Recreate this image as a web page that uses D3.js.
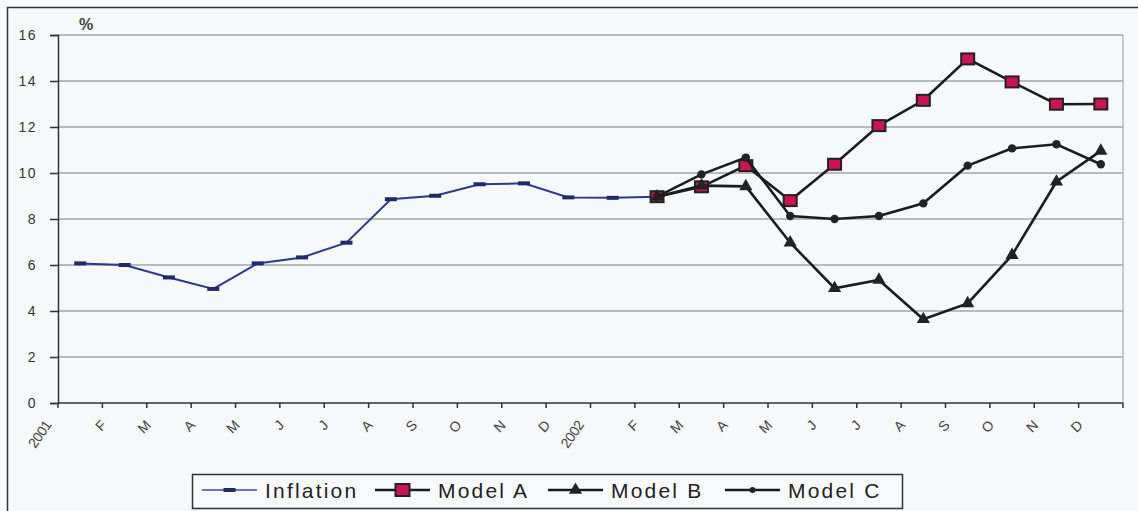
<!DOCTYPE html>
<html>
<head>
<meta charset="utf-8">
<script src="https://cdn.jsdelivr.net/npm/d3@7"></script>
<style>
  body { margin: 0; background: #f6f8fa; }
  svg { display: block; font-family: "Liberation Sans", Arial, sans-serif; }
</style>
</head>
<body>
<div id="chart"></div>
<script>
// month labels for Jan 2001 .. Dec 2002
const months = ["2001","F","M","A","M","J","J","A","S","O","N","D",
                "2002","F","M","A","M","J","J","A","S","O","N","D"];
const yTicks = [0, 2, 4, 6, 8, 10, 12, 14, 16];

// inflation runs Jan 2001 .. Feb 2002, the models Feb 2002 .. Dec 2002
const inflationStart = 0;
const inflation = [6.07, 6.0, 5.46, 4.96, 6.07, 6.33, 6.97, 8.86, 9.01, 9.51, 9.55, 8.94, 8.92, 8.97];
const modelStart = 13;
const modelA = [8.97, 9.4, 10.32, 8.8, 10.38, 12.06, 13.16, 14.96, 13.96, 12.99, 13.0];
const modelB = [8.97, 9.45, 9.42, 6.97, 4.99, 5.35, 3.64, 4.33, 6.43, 9.62, 10.96];
const modelC = [8.97, 9.94, 10.67, 8.13, 8.0, 8.13, 8.68, 10.32, 11.07, 11.25, 10.38];

const seriesNames = ["Inflation", "Model A", "Model B", "Model C"];

const W = 1138, H = 511;
const plot = { left: 58, right: 1123, top: 35, bottom: 403 };

const svg = d3.select("#chart").append("svg")
  .attr("width", W)
  .attr("height", H);

// outer frame of the scanned chart
svg.append("rect")
  .attr("x", 7.5).attr("y", 7.5)
  .attr("width", W).attr("height", H)
  .attr("fill", "none")
  .attr("stroke", "#333")
  .attr("stroke-width", 1.5);

const x = d3.scaleBand()
  .domain(d3.range(months.length))
  .range([plot.left, plot.right])
  .padding(0);

const y = d3.scaleLinear()
  .domain([0, 16])
  .range([plot.bottom, plot.top]);

const cx = i => x(i) + x.bandwidth() / 2;

// gridlines
svg.append("g")
  .selectAll("line")
  .data(yTicks.filter(d => d > 0))
  .join("line")
  .attr("x1", plot.left).attr("x2", plot.right)
  .attr("y1", d => y(d)).attr("y2", d => y(d))
  .attr("stroke", "#7c7c7c")
  .attr("stroke-width", 1.2);

// right border of plot area
svg.append("line")
  .attr("x1", plot.right).attr("x2", plot.right)
  .attr("y1", plot.top).attr("y2", plot.bottom)
  .attr("stroke", "#999");

// y axis
const yAxis = svg.append("g")
  .attr("transform", `translate(${plot.left},0)`)
  .call(d3.axisLeft(y).tickValues(yTicks).tickSize(8).tickPadding(13));
yAxis.select(".domain").attr("stroke", "#333").attr("stroke-width", 1.5);
yAxis.selectAll(".tick line").attr("stroke", "#333").attr("stroke-width", 1.5);
yAxis.selectAll("text")
  .attr("font-size", 14)
  .attr("letter-spacing", "1.5px")
  .attr("fill", "#333");

svg.append("text")
  .attr("x", 79).attr("y", 30)
  .attr("font-size", 16)
  .attr("font-weight", "bold")
  .attr("fill", "#444")
  .text("%");

// x axis: ticks on category boundaries
const xAxisG = svg.append("g");
xAxisG.append("line")
  .attr("x1", plot.left).attr("x2", plot.right)
  .attr("y1", plot.bottom).attr("y2", plot.bottom)
  .attr("stroke", "#333")
  .attr("stroke-width", 1.5);
xAxisG.selectAll(".xt")
  .data(d3.range(months.length + 1))
  .join("line")
  .attr("class", "xt")
  .attr("x1", i => plot.left + i * x.bandwidth())
  .attr("x2", i => plot.left + i * x.bandwidth())
  .attr("y1", plot.bottom).attr("y2", plot.bottom + 5)
  .attr("stroke", "#333")
  .attr("stroke-width", 1.5);
xAxisG.selectAll(".xl")
  .data(months)
  .join("text")
  .attr("class", "xl")
  .attr("text-anchor", "end")
  .attr("font-size", 14)
  .attr("letter-spacing", d => d.length > 1 ? "-0.5px" : "0px")
  .attr("fill", "#444")
  .attr("transform", (d, i) => d.length > 1
    ? `translate(${x(i) - 6},${425}) rotate(-55)`
    : `translate(${x(i) + 5},${426}) rotate(-45)`)
  .text(d => d);

// series
const line = d3.line().x(d => cx(d.i)).y(d => y(d.v));
const toPts = (arr, start) => arr.map((v, k) => ({ i: start + k, v: v }));

const infPts = toPts(inflation, inflationStart);
const aPts = toPts(modelA, modelStart);
const bPts = toPts(modelB, modelStart);
const cPts = toPts(modelC, modelStart);

svg.append("path")
  .datum(infPts)
  .attr("d", line)
  .attr("fill", "none")
  .attr("stroke", "#2c3a8c")
  .attr("stroke-width", 2);
svg.selectAll(".inf-m")
  .data(infPts)
  .join("rect")
  .attr("class", "inf-m")
  .attr("x", d => cx(d.i) - 6).attr("y", d => y(d.v) - 2)
  .attr("width", 12).attr("height", 4)
  .attr("fill", "#1e2a6a");

const triangle = d3.symbol().type(d3.symbolTriangle).size(75);

function drawModel(pts, kind) {
  svg.append("path")
    .datum(pts)
    .attr("d", line)
    .attr("fill", "none")
    .attr("stroke", "#1c1c1c")
    .attr("stroke-width", 2.6);
  const g = svg.append("g");
  if (kind === "square") {
    g.selectAll("rect").data(pts).join("rect")
      .attr("x", d => cx(d.i) - 6.5).attr("y", d => y(d.v) - 5.5)
      .attr("width", 13).attr("height", 11)
      .attr("fill", "#cc1452")
      .attr("stroke", "#222")
      .attr("stroke-width", 2);
  } else if (kind === "triangle") {
    g.selectAll("path").data(pts).join("path")
      .attr("d", triangle)
      .attr("transform", d => `translate(${cx(d.i)},${y(d.v)})`)
      .attr("fill", "#222");
  } else {
    g.selectAll("circle").data(pts).join("circle")
      .attr("cx", d => cx(d.i)).attr("cy", d => y(d.v))
      .attr("r", 4.2)
      .attr("fill", "#222");
  }
}
drawModel(aPts, "square");
drawModel(bPts, "triangle");
drawModel(cPts, "circle");

// legend
const legend = svg.append("g");
legend.append("rect")
  .attr("x", 192.5).attr("y", 474.5)
  .attr("width", 710).attr("height", 34)
  .attr("fill", "#f8f9fb")
  .attr("stroke", "#333")
  .attr("stroke-width", 1.5);

const legendX = [202, 375, 548, 725];
const legendKinds = ["dash", "square", "triangle", "circle"];
seriesNames.forEach((name, k) => {
  const lx = legendX[k], ly = 490;
  legend.append("line")
    .attr("x1", lx).attr("x2", lx + 55)
    .attr("y1", ly).attr("y2", ly)
    .attr("stroke", k === 0 ? "#3b4a9c" : "#1c1c1c")
    .attr("stroke-width", k === 0 ? 1.6 : 2.6);
  const mx = lx + 27.5;
  if (legendKinds[k] === "dash") {
    legend.append("rect").attr("x", mx - 6).attr("y", ly - 2).attr("width", 12).attr("height", 4).attr("fill", "#1e2a6a");
  } else if (legendKinds[k] === "square") {
    legend.append("rect").attr("x", mx - 7).attr("y", ly - 6).attr("width", 14).attr("height", 12)
      .attr("fill", "#cc1452").attr("stroke", "#222").attr("stroke-width", 2);
  } else if (legendKinds[k] === "triangle") {
    legend.append("path").attr("d", triangle).attr("transform", `translate(${mx},${ly})`).attr("fill", "#222");
  } else {
    legend.append("circle").attr("cx", mx).attr("cy", ly).attr("r", 3).attr("fill", "#222");
  }
  legend.append("text")
    .attr("x", lx + 63).attr("y", ly + 8)
    .attr("font-size", 21)
    .attr("letter-spacing", "2.2px")
    .attr("fill", "#222")
    .text(name);
});
</script>
</body>
</html>
